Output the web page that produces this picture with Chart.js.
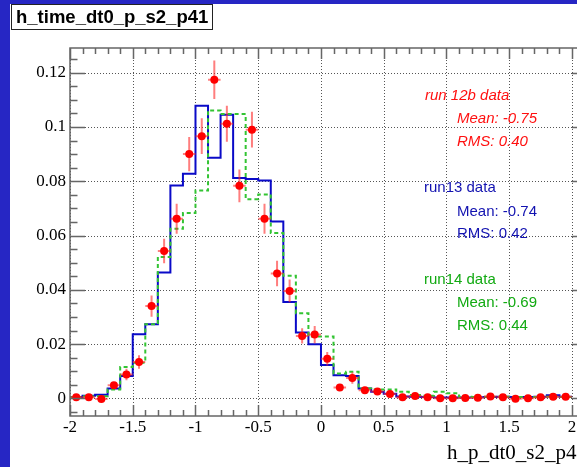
<!DOCTYPE html>
<html>
<head>
<meta charset="utf-8">
<script src="https://cdn.jsdelivr.net/npm/chart.js"></script>
<style>
  html, body { margin: 0; padding: 0; width: 577px; height: 467px; overflow: hidden; background: #2626c4; }
  #wrap { position: absolute; left: 10px; top: 4px; width: 590px; height: 463px; background: #fff; }
</style>
</head>
<body>
<div id="wrap"><canvas id="Chart" width="590" height="463"></canvas></div>
<script>
// bin edges of the histograms (0.1 wide)
const binEdges = [-2.0, -1.9, -1.8, -1.7, -1.6, -1.5, -1.4, -1.3, -1.2, -1.1,
  -1.0, -0.9, -0.8, -0.7, -0.6, -0.5, -0.4, -0.3, -0.2, -0.1,
  0.0, 0.1, 0.2, 0.3, 0.4, 0.5, 0.6, 0.7, 0.8, 0.9,
  1.0, 1.1, 1.2, 1.3, 1.4, 1.5, 1.6, 1.7, 1.8, 1.9, 2.0];

const binCenters = [-1.95, -1.85, -1.75, -1.65, -1.55, -1.45, -1.35, -1.25, -1.15, -1.05,
  -0.95, -0.85, -0.75, -0.65, -0.55, -0.45, -0.35, -0.25, -0.15, -0.05,
  0.05, 0.15, 0.25, 0.35, 0.45, 0.55, 0.65, 0.75, 0.85, 0.95,
  1.05, 1.15, 1.25, 1.35, 1.45, 1.55, 1.65, 1.75, 1.85, 1.95];

// run 12b data (points with errors)
const run12b = [0.0004, 0.0004, -0.0002, 0.0048, 0.0088, 0.0134, 0.0340, 0.0543, 0.0662, 0.0900,
  0.0966, 0.1174, 0.1012, 0.0783, 0.0990, 0.0662, 0.0460, 0.0396, 0.0230, 0.0235,
  0.0146, 0.0040, 0.0075, 0.0030, 0.0025, 0.0016, 0.0004, 0.0009, 0.0004, 0.0000,
  0.0000, 0.0001, 0.0002, 0.0007, 0.0004, -0.0001, 0.0000, 0.0004, 0.0006, 0.0006];
const run12bErr = [0.0006, 0.0006, 0.0006, 0.0012, 0.0021, 0.0025, 0.0039, 0.0045, 0.0055, 0.0063,
  0.0066, 0.0071, 0.0066, 0.0060, 0.0066, 0.0055, 0.0047, 0.0042, 0.0028, 0.0032,
  0.0025, 0.0012, 0.0021, 0.0012, 0.0010, 0.0008, 0.0006, 0.0006, 0.0006, 0.0006,
  0.0006, 0.0006, 0.0006, 0.0006, 0.0006, 0.0006, 0.0006, 0.0006, 0.0006, 0.0006];

// run13 data (solid blue histogram)
const run13 = [0.0005, 0.0010, 0.0013, 0.0036, 0.0082, 0.0236, 0.0273, 0.0464, 0.0784, 0.0828,
  0.1078, 0.0887, 0.1045, 0.0812, 0.0808, 0.0803, 0.0652, 0.0355, 0.0243, 0.0199,
  0.0123, 0.0085, 0.0082, 0.0036, 0.0024, 0.0017, 0.0007, 0.0006, 0.0005, 0.0003,
  0.0003, 0.0003, 0.0004, 0.0005, 0.0006, 0.0005, 0.0005, 0.0006, 0.0011, 0.0006];

// run14 data (dashed green histogram)
const run14 = [0.0004, 0.0008, 0.0008, 0.0033, 0.0116, 0.0131, 0.0273, 0.0521, 0.0625, 0.0683,
  0.0766, 0.1061, 0.1048, 0.1048, 0.0734, 0.0751, 0.0609, 0.0452, 0.0314, 0.0228,
  0.0228, 0.0092, 0.0098, 0.0036, 0.0033, 0.0033, 0.0024, 0.0012, 0.0010, 0.0024,
  0.0019, 0.0006, 0.0005, 0.0006, 0.0006, 0.0005, 0.0005, 0.0005, 0.0006, 0.0005];

const xTickValues = [-2, -1.5, -1, -0.5, 0, 0.5, 1, 1.5, 2];
const xTickLabels = ['-2', '-1.5', '-1', '-0.5', '0', '0.5', '1', '1.5', '2'];
const yTickValues = [0, 0.02, 0.04, 0.06, 0.08, 0.1, 0.12];
const yTickLabels = ['0', '0.02', '0.04', '0.06', '0.08', '0.1', '0.12'];
const xMinorStep = 0.1;
const yMinorStep = 0.005;

const titleText = 'h_time_dt0_p_s2_p41';
const xTitle = 'h_p_dt0_s2_p41';

const statLines = [
  { text: 'run 12b data', color: '#ff1010', italic: true, x: 415, y: 96 },
  { text: 'Mean: -0.75', color: '#ff1010', italic: true, x: 447, y: 119 },
  { text: 'RMS: 0.40', color: '#ff1010', italic: true, x: 447, y: 142 },
  { text: 'run13 data', color: '#1212b0', italic: false, x: 414, y: 188 },
  { text: 'Mean: -0.74', color: '#1212b0', italic: false, x: 447, y: 211.5 },
  { text: 'RMS: 0.42', color: '#1212b0', italic: false, x: 447, y: 233.5 },
  { text: 'run14 data', color: '#12aa12', italic: false, x: 414, y: 279.5 },
  { text: 'Mean: -0.69', color: '#12aa12', italic: false, x: 447, y: 302.5 },
  { text: 'RMS: 0.44', color: '#12aa12', italic: false, x: 447, y: 325.5 }
];

function histPoints(values) {
  const pts = values.map((v, i) => ({ x: binEdges[i], y: v }));
  pts.push({ x: binEdges[binEdges.length - 1], y: values[values.length - 1] });
  return pts;
}

// grid, frame, ROOT-style inner ticks, error bars, texts
const rootStyle = {
  id: 'rootStyle',
  beforeDatasetsDraw(chart) {
    const { ctx, chartArea: a, scales: { x, y } } = chart;
    ctx.save();
    ctx.strokeStyle = '#555';
    ctx.lineWidth = 1;
    ctx.setLineDash([1, 2]);
    xTickValues.forEach(v => {
      const px = Math.round(x.getPixelForValue(v)) + 0.5;
      ctx.beginPath(); ctx.moveTo(px, a.top); ctx.lineTo(px, a.bottom); ctx.stroke();
    });
    yTickValues.forEach(v => {
      const py = Math.round(y.getPixelForValue(v)) + 0.5;
      ctx.beginPath(); ctx.moveTo(a.left, py); ctx.lineTo(a.right, py); ctx.stroke();
    });
    ctx.restore();
  },
  beforeDatasetDraw(chart, args) {
    if (args.index !== 0) return;
    const { ctx, chartArea: a, scales: { x, y } } = chart;
    ctx.save();
    ctx.beginPath();
    ctx.rect(a.left, a.top, a.right - a.left, a.bottom - a.top);
    ctx.clip();
    ctx.strokeStyle = 'rgba(255, 40, 40, 0.6)';
    ctx.lineWidth = 2;
    binCenters.forEach((c, i) => {
      const px = x.getPixelForValue(c);
      const py = y.getPixelForValue(run12b[i]);
      ctx.beginPath();
      ctx.moveTo(x.getPixelForValue(c - 0.05), py);
      ctx.lineTo(x.getPixelForValue(c + 0.05), py);
      ctx.moveTo(px, y.getPixelForValue(run12b[i] - run12bErr[i]));
      ctx.lineTo(px, y.getPixelForValue(run12b[i] + run12bErr[i]));
      ctx.stroke();
    });
    ctx.restore();
  },
  afterDatasetsDraw(chart) {
    const { ctx, chartArea: a, scales: { x, y } } = chart;
    ctx.save();
    ctx.strokeStyle = '#666';
    ctx.lineWidth = 1.5;
    ctx.strokeRect(a.left, a.top, a.right - a.left, a.bottom - a.top);

    // x ticks, top and bottom
    ctx.lineWidth = 1.5;
    for (let v = -2; v <= x.max + 1e-9; v += xMinorStep) {
      const r = Math.round(v * 10) / 10;
      const major = xTickValues.includes(r);
      const len = major ? 11 : 6;
      const px = Math.round(x.getPixelForValue(r)) + 0.5;
      ctx.beginPath();
      ctx.moveTo(px, a.bottom); ctx.lineTo(px, a.bottom - len);
      ctx.moveTo(px, a.top); ctx.lineTo(px, a.top + len);
      ctx.stroke();
    }
    // y ticks, left and right
    for (let v = -0.005; v <= y.max + 1e-9; v += yMinorStep) {
      const r = Math.round(v * 1000) / 1000;
      const major = yTickValues.includes(r);
      const len = major ? 15 : 7.5;
      const py = Math.round(y.getPixelForValue(r)) + 0.5;
      ctx.beginPath();
      ctx.moveTo(a.left, py); ctx.lineTo(a.left + len, py);
      ctx.moveTo(a.right, py); ctx.lineTo(a.right - len, py);
      ctx.stroke();
    }
    ctx.restore();
  },
  afterDraw(chart) {
    const { ctx } = chart;
    ctx.save();
    // title box
    ctx.fillStyle = '#fff';
    ctx.fillRect(1, 0, 201, 25.5);
    ctx.strokeStyle = '#222';
    ctx.lineWidth = 1;
    ctx.strokeRect(1.5, 0.5, 201, 25);
    ctx.fillStyle = '#000';
    ctx.font = 'bold 18.5px "Liberation Sans", Arial, sans-serif';
    ctx.textBaseline = 'alphabetic';
    ctx.fillText(titleText, 6, 18.7);

    statLines.forEach(s => {
      ctx.fillStyle = s.color;
      ctx.font = (s.italic ? 'italic ' : '') + '15px "Liberation Sans", Arial, sans-serif';
      ctx.fillText(s.text, s.x, s.y);
    });
    ctx.restore();
  }
};

const ctx = document.getElementById('Chart').getContext('2d');

const chart = new Chart(ctx, {
  type: 'scatter',
  data: {
    datasets: [
      {
        label: 'run 12b data',
        data: binCenters.map((c, i) => ({ x: c, y: run12b[i] })),
        showLine: false,
        pointRadius: 4,
        pointBackgroundColor: '#ff0000',
        pointBorderColor: '#ff0000',
        pointBorderWidth: 0
      },
      {
        type: 'line',
        label: 'run14 data',
        data: histPoints(run14),
        stepped: true,
        borderColor: '#33c433',
        borderWidth: 2,
        borderDash: [4, 3],
        pointRadius: 0,
        fill: false
      },
      {
        type: 'line',
        label: 'run13 data',
        data: histPoints(run13),
        stepped: true,
        borderColor: '#0a0ac8',
        borderWidth: 2,
        pointRadius: 0,
        fill: false
      }
    ]
  },
  options: {
    responsive: false,
    animation: false,
    events: [],
    layout: { padding: { left: 0, top: 44, right: 13, bottom: 0 } },
    plugins: {
      legend: { display: false },
      tooltip: { enabled: false }
    },
    scales: {
      x: {
        type: 'linear',
        min: -2,
        max: 2.12,
        grid: { display: false, drawTicks: false },
        border: { display: false },
        afterBuildTicks: s => { s.ticks = xTickValues.map(v => ({ value: v })); },
        afterFit: s => { s.height = 51; },
        ticks: {
          autoSkip: false,
          maxRotation: 0,
          padding: 1,
          color: '#000',
          font: { family: '"Liberation Serif", "Times New Roman", serif', size: 17 },
          callback: (v, i) => xTickLabels[i]
        },
        title: {
          display: true,
          text: xTitle,
          align: 'end',
          color: '#000',
          padding: { top: 0, bottom: 1 },
          font: { family: '"Liberation Serif", "Times New Roman", serif', size: 21 }
        }
      },
      y: {
        min: -0.0065,
        max: 0.1291,
        grid: { display: false, drawTicks: false },
        border: { display: false },
        afterBuildTicks: s => { s.ticks = yTickValues.map(v => ({ value: v })); },
        afterFit: s => { s.width = 60; },
        ticks: {
          padding: 4,
          color: '#000',
          font: { family: '"Liberation Serif", "Times New Roman", serif', size: 17 },
          callback: (v, i) => yTickLabels[i]
        }
      }
    }
  },
  plugins: [rootStyle]
});
</script>
</body>
</html>
